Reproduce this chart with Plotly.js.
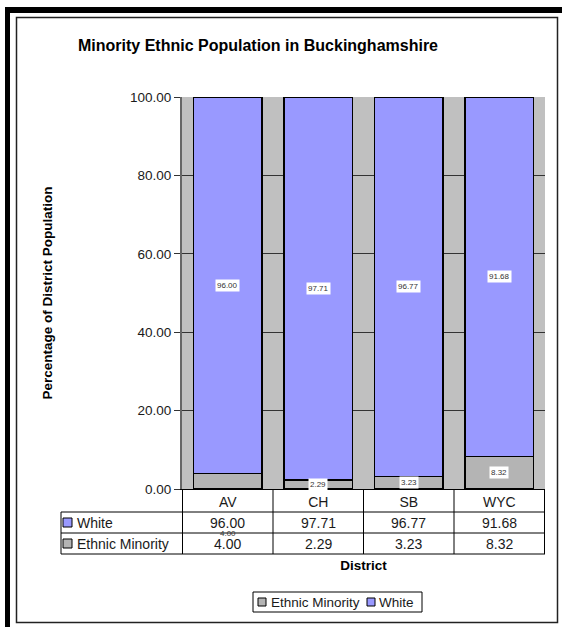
<!DOCTYPE html>
<html>
<head>
<meta charset="utf-8">
<script src="https://cdn.plot.ly/plotly-3.0.1.min.js"></script>
<style>
  html, body { margin: 0; padding: 0; background: #ffffff; }
  #chart { width: 562px; height: 627px; }
</style>
</head>
<body>
<div id="chart"></div>
<script>
// District shares of population (percent)
const categories = ['AV', 'CH', 'SB', 'WYC'];
const white = [96.00, 97.71, 96.77, 91.68];
const minority = [4.00, 2.29, 3.23, 8.32];
const seriesNames = ['Ethnic Minority', 'White'];
const yTicks = [0, 20, 40, 60, 80, 100];

const WHITE_COLOR = '#9999ff';
const MINORITY_COLOR = '#b4b4b4';
const FONT = 'Liberation Sans, Arial, sans-serif';

// Plot area geometry (pixels) used to convert page positions to paper units
const W = 562, H = 627;
const M = { l: 182, r: 17, t: 97, b: 138 };
const plotW = W - M.l - M.r, plotH = H - M.t - M.b;
const px = x => (x - M.l) / plotW;
const py = y => (H - M.b - y) / plotH;

const fmt = v => v.toFixed(2);

const traces = [
  {
    type: 'bar', name: seriesNames[0], x: categories, y: minority,
    marker: { color: MINORITY_COLOR, line: { color: '#000', width: 1.3 } },
    hoverinfo: 'skip', showlegend: false
  },
  {
    type: 'bar', name: seriesNames[1], x: categories, y: white,
    marker: { color: WHITE_COLOR, line: { color: '#000', width: 1.3 } },
    hoverinfo: 'skip', showlegend: false
  }
];

const annotations = [];
const shapes = [];

// Text helper with explicit anchors
const label = (x, xref, y, yref, text, size, opts) => Object.assign({
  x: x, xref: xref, y: y, yref: yref, text: text, showarrow: false,
  xanchor: 'center', yanchor: 'middle',
  font: { family: FONT, size: size, color: '#1a1a1a' }
}, opts || {});

// Value labels on the stacked segments
categories.forEach((c, i) => {
  annotations.push(label(c, 'x', minority[i] + white[i] / 2, 'y', fmt(white[i]), 8,
    { bgcolor: '#ffffff', borderpad: 1, font: { family: FONT, size: 8, color: '#333' } }));
  if (i === 0) {
    // AV minority label sits below the axis, over the table row
    annotations.push(label(c, 'x', py(533), 'paper', fmt(minority[i]), 8,
      { font: { family: FONT, size: 8, color: '#333' } }));
  } else {
    annotations.push(label(c, 'x', minority[i] / 2, 'y', fmt(minority[i]), 8,
      { bgcolor: '#ffffff', borderpad: 1, font: { family: FONT, size: 8, color: '#333' } }));
  }
});

// Data table below the chart
const line = (x0, y0, x1, y1, xref) => ({
  type: 'line', xref: xref, yref: 'paper',
  x0: x0, x1: x1, y0: py(y0), y1: py(y1),
  line: { color: '#000', width: 1 }
});
shapes.push(line(px(61), 512, 1, 512, 'paper'));
shapes.push(line(px(61), 533, 1, 533, 'paper'));
shapes.push(line(px(61), 554, 1, 554, 'paper'));
// vertical rules on category boundaries
for (let i = 0; i <= categories.length; i++) {
  shapes.push(line(i - 0.5, 489, i - 0.5, 554, 'x'));
}
shapes.push(line(px(61), 512, px(61), 554, 'paper'));

// Row labels with colour keys
const rows = [
  { name: seriesNames[1], color: WHITE_COLOR, values: white, yc: 522.5 },
  { name: seriesNames[0], color: MINORITY_COLOR, values: minority, yc: 543.5 }
];
rows.forEach(r => {
  shapes.push({
    type: 'rect', xref: 'paper', yref: 'paper',
    x0: px(63), x1: px(72), y0: py(r.yc - 4.5), y1: py(r.yc + 4.5),
    fillcolor: r.color, line: { color: '#000', width: 1 }
  });
  annotations.push(label(px(75), 'paper', py(r.yc), 'paper', r.name, 14, { xanchor: 'left' }));
  categories.forEach((c, i) => {
    annotations.push(label(c, 'x', py(r.yc), 'paper', fmt(r.values[i]), 14));
  });
});

// Legend at the bottom
shapes.push({
  type: 'rect', xref: 'paper', yref: 'paper',
  x0: px(253), x1: px(422), y0: py(592), y1: py(612),
  fillcolor: '#ffffff', line: { color: '#000', width: 1 }
});
const legendItems = [
  { name: seriesNames[0], color: MINORITY_COLOR, kx: 258, tx: 269 },
  { name: seriesNames[1], color: WHITE_COLOR, kx: 367, tx: 377 }
];
legendItems.forEach(it => {
  shapes.push({
    type: 'rect', xref: 'paper', yref: 'paper',
    x0: px(it.kx), x1: px(it.kx + 8), y0: py(598), y1: py(606),
    fillcolor: it.color, line: { color: '#000', width: 1 }
  });
  annotations.push(label(px(it.tx), 'paper', py(602.5), 'paper', it.name, 13.5, { xanchor: 'left' }));
});

// Page frame
const rectPx = (x0, y0, x1, y1, fill, lineColor, lw) => ({
  type: 'rect', xref: 'paper', yref: 'paper', layer: 'above',
  x0: px(x0), x1: px(x1), y0: py(y0), y1: py(y1),
  fillcolor: fill, line: { color: lineColor || 'rgba(0,0,0,0)', width: lw || 0 }
});
shapes.push(rectPx(5, 7, 10, 627, '#000'));
shapes.push(rectPx(5, 7, 562, 13, '#000'));
shapes.push(rectPx(16.5, 17.5, 557.5, 622.5, 'rgba(0,0,0,0)', '#222', 1.5));

const layout = {
  width: W, height: H,
  margin: M,
  paper_bgcolor: '#ffffff',
  plot_bgcolor: '#c0c0c0',
  barmode: 'stack',
  bargap: 0.24,
  showlegend: false,
  font: { family: FONT, color: '#1a1a1a' },
  title: {
    text: '<b>Minority Ethnic Population in Buckinghamshire</b>',
    font: { family: FONT, size: 16, color: '#000' },
    x: 258 / W, xref: 'container', xanchor: 'center',
    y: 1 - 45 / H, yref: 'container', yanchor: 'middle'
  },
  xaxis: {
    type: 'category',
    tickfont: { family: FONT, size: 14, color: '#1a1a1a' },
    ticks: '',
    showline: true, linecolor: '#000', linewidth: 1,
    showgrid: false, zeroline: false, fixedrange: true,
    automargin: false,
    title: {
      text: '<b>District</b>',
      font: { family: FONT, size: 13.5, color: '#000' },
      standoff: 51
    }
  },
  yaxis: {
    range: [0, 100],
    tickvals: yTicks,
    ticktext: yTicks.map(fmt),
    tickfont: { family: FONT, size: 13.5, color: '#1a1a1a' },
    ticks: 'outside', ticklen: 6, tickcolor: '#333',
    showgrid: true, gridcolor: '#333', gridwidth: 1,
    showline: true, linecolor: '#666', linewidth: 2,
    zeroline: false, fixedrange: true,
    automargin: false,
    title: {
      text: '<b>Percentage of District Population</b>',
      font: { family: FONT, size: 13.5, color: '#000' },
      standoff: 74
    }
  },
  annotations: annotations,
  shapes: shapes
};

Plotly.newPlot('chart', traces, layout, { staticPlot: true, displayModeBar: false });
</script>
</body>
</html>
